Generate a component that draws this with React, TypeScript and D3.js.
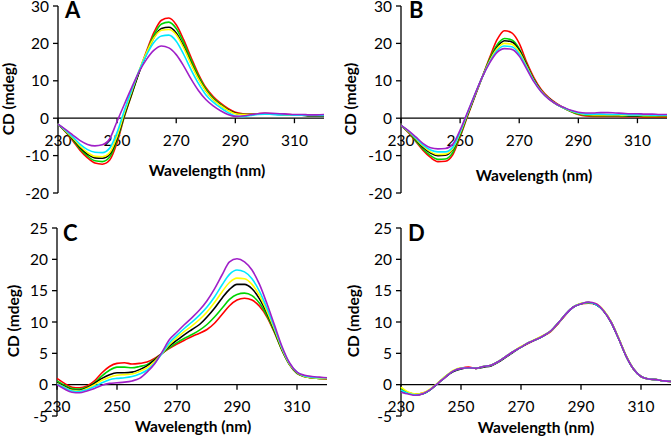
import * as d3 from 'd3';

// wavelength grid (nm) shared by all four panels
const wavelengths = [
  230, 232.5, 235, 237.5, 240, 242.5, 245, 247.5, 250, 252.5, 255, 257.5, 260, 262.5, 265, 267.5,
  270, 272.5, 275, 277.5, 280, 282.5, 285, 287.5, 290, 292.5, 295, 297.5, 300, 302.5, 305, 307.5,
  310, 312.5, 315, 317.5, 320,
];
const xTicks = [230, 250, 270, 290, 310];
const yTicksAB = [-20, -10, 0, 10, 20, 30];
const yTicksCD = [-5, 0, 5, 10, 15, 20, 25];

// Panel A
const aRed = [-1.6, -3.6, -6.0, -8.6, -10.6, -12.0, -12.3, -11.2, -6.5, 0.5, 6.5, 12.5, 18.0, 23.0, 26.2, 26.8, 25.0, 21.0, 16.3, 11.8, 8.2, 5.8, 4.0, 2.6, 1.6, 1.2, 1.1, 1.2, 1.3, 1.2, 1.1, 1.0, 0.9, 0.9, 0.8, 0.8, 0.8];
const aGreen = [-1.6, -3.5, -5.7, -8.2, -10.1, -11.4, -11.6, -10.4, -5.8, 0.8, 6.6, 12.4, 17.6, 22.3, 25.2, 25.7, 24.0, 20.2, 15.6, 11.3, 7.8, 5.4, 3.7, 2.3, 1.3, 1.0, 1.0, 1.1, 1.2, 1.1, 1.0, 0.9, 0.8, 0.8, 0.7, 0.7, 0.7];
const aBlack = [-1.6, -3.4, -5.5, -7.8, -9.6, -10.6, -10.7, -9.6, -5.3, 1.0, 6.8, 12.4, 17.3, 21.6, 24.0, 24.3, 22.8, 19.2, 14.8, 10.7, 7.4, 5.1, 3.5, 2.2, 1.3, 1.0, 1.0, 1.1, 1.2, 1.1, 1.0, 0.9, 0.8, 0.8, 0.7, 0.7, 0.7];
const aYellow = [-1.6, -3.3, -5.3, -7.5, -9.2, -10.2, -10.3, -9.2, -4.8, 1.5, 7.3, 12.9, 17.6, 21.5, 23.5, 23.7, 22.3, 18.8, 14.5, 10.5, 7.3, 5.0, 3.4, 2.1, 1.2, 1.0, 1.0, 1.1, 1.2, 1.1, 1.0, 0.9, 0.9, 0.8, 0.8, 0.8, 0.8];
const aCyan = [-1.6, -3.2, -5.0, -7.0, -8.4, -9.1, -9.2, -8.0, -3.8, 2.2, 7.7, 12.8, 17.0, 20.3, 22.0, 22.2, 20.6, 17.1, 13.0, 9.3, 6.3, 4.3, 2.8, 1.5, 0.6, 0.4, 0.7, 1.0, 1.1, 1.0, 0.9, 0.9, 0.8, 0.8, 0.8, 0.8, 0.8];
const aPurple = [-1.6, -3.0, -4.5, -6.0, -7.0, -7.4, -7.1, -5.5, -0.8, 3.8, 8.3, 12.5, 15.8, 18.2, 19.3, 18.8, 17.0, 14.0, 10.5, 7.4, 5.0, 3.3, 2.0, 1.0, 0.5, 0.6, 0.9, 1.2, 1.4, 1.3, 1.2, 1.1, 1.0, 1.0, 0.9, 0.9, 1.0];

// Panel B
const bRed = [-1.9, -3.8, -6.2, -8.6, -10.5, -11.6, -11.5, -9.8, -5.0, 0.5, 5.8, 11.0, 16.2, 21.0, 23.4, 22.8, 20.0, 15.0, 10.8, 7.6, 5.5, 4.0, 2.8, 1.8, 1.0, 0.6, 0.5, 0.5, 0.5, 0.5, 0.4, 0.4, 0.4, 0.3, 0.3, 0.3, 0.3];
const bGreen = [-1.9, -3.7, -6.0, -8.3, -10.0, -11.0, -10.9, -9.2, -4.6, 0.8, 6.0, 11.0, 15.8, 19.6, 21.3, 20.9, 18.6, 14.4, 10.3, 7.3, 5.3, 3.8, 2.7, 1.8, 1.1, 0.8, 0.7, 0.7, 0.7, 0.7, 0.6, 0.6, 0.6, 0.5, 0.5, 0.5, 0.5];
const bBlack = [-1.9, -3.6, -5.7, -7.8, -9.3, -10.0, -9.9, -8.4, -4.2, 1.0, 6.1, 11.0, 15.5, 19.0, 20.7, 20.4, 18.2, 14.2, 10.2, 7.3, 5.3, 3.8, 2.8, 1.9, 1.3, 1.0, 0.9, 0.9, 0.9, 0.8, 0.8, 0.7, 0.7, 0.7, 0.7, 0.6, 0.6];
const bYellow = [-1.9, -3.5, -5.5, -7.5, -9.0, -9.7, -9.6, -8.2, -4.0, 1.2, 6.2, 11.0, 15.3, 18.6, 20.0, 19.8, 17.7, 13.9, 10.0, 7.2, 5.2, 3.8, 2.8, 1.9, 1.3, 1.0, 0.9, 0.9, 0.9, 0.9, 0.8, 0.8, 0.8, 0.7, 0.7, 0.7, 0.7];
const bCyan = [-1.9, -3.4, -5.3, -7.2, -8.5, -9.0, -9.0, -7.8, -3.7, 1.4, 6.3, 11.0, 15.0, 18.1, 19.3, 19.1, 17.2, 13.6, 9.9, 7.1, 5.2, 3.8, 2.8, 2.0, 1.4, 1.1, 1.1, 1.1, 1.0, 1.0, 1.0, 0.9, 0.9, 0.9, 0.8, 0.8, 0.8];
const bPurple = [-1.9, -3.3, -5.0, -6.8, -7.9, -8.2, -8.1, -7.0, -3.2, 1.6, 6.4, 11.0, 14.8, 17.6, 18.6, 18.4, 16.6, 13.2, 9.7, 7.0, 5.1, 3.8, 2.9, 2.1, 1.6, 1.4, 1.4, 1.5, 1.5, 1.4, 1.3, 1.2, 1.2, 1.1, 1.1, 1.0, 1.0];

// Panel C
const cRed = [1.0, 0.2, -0.4, -0.5, -0.2, 0.6, 1.9, 2.9, 3.4, 3.5, 3.3, 3.4, 3.6, 4.2, 5.0, 5.8, 6.5, 7.1, 7.7, 8.2, 8.8, 9.8, 11.2, 12.6, 13.5, 13.8, 13.5, 12.5, 10.8, 8.3, 5.5, 3.2, 1.8, 1.3, 1.1, 1.0, 0.9];
const cGreen = [0.6, -0.1, -0.6, -0.7, -0.4, 0.3, 1.4, 2.3, 2.8, 2.8, 2.7, 2.9, 3.2, 4.0, 5.0, 5.9, 6.7, 7.4, 8.0, 8.7, 9.6, 10.8, 12.2, 13.6, 14.4, 14.6, 14.2, 13.0, 11.0, 8.4, 5.5, 3.2, 1.8, 1.3, 1.1, 1.0, 1.0];
const cBlack = [0.3, -0.3, -0.8, -0.9, -0.5, 0.2, 1.0, 1.6, 1.9, 1.9, 2.0, 2.4, 3.0, 3.9, 5.0, 6.2, 7.1, 8.0, 8.8, 9.6, 10.8, 12.2, 13.8, 15.2, 16.0, 16.0, 15.3, 13.7, 11.4, 8.6, 5.6, 3.3, 1.9, 1.3, 1.1, 1.0, 1.0];
const cYellow = [0.2, -0.4, -0.9, -1.0, -0.6, 0.0, 0.7, 1.2, 1.5, 1.6, 1.7, 2.1, 2.7, 3.7, 5.0, 6.4, 7.5, 8.5, 9.4, 10.4, 11.6, 13.1, 14.8, 16.3, 17.0, 16.9, 16.0, 14.2, 11.7, 8.8, 5.7, 3.3, 1.9, 1.3, 1.1, 1.0, 1.0];
const cCyan = [0.1, -0.5, -1.0, -1.1, -0.8, -0.3, 0.3, 0.8, 1.0, 1.1, 1.3, 1.7, 2.3, 3.4, 5.0, 6.7, 7.9, 9.0, 10.0, 11.1, 12.4, 14.0, 15.9, 17.6, 18.3, 18.0, 16.9, 14.9, 12.2, 9.1, 5.9, 3.4, 2.0, 1.4, 1.2, 1.1, 1.1];
const cPurple = [0.0, -0.7, -1.2, -1.3, -1.0, -0.6, -0.1, 0.2, 0.3, 0.4, 0.6, 1.0, 2.0, 3.3, 5.2, 7.2, 8.4, 9.6, 10.7, 11.9, 13.4, 15.3, 17.5, 19.6, 20.1, 19.6, 18.3, 16.0, 12.9, 9.5, 6.1, 3.5, 2.0, 1.5, 1.3, 1.2, 1.1];

// Panel D
const dRed = [-0.8, -1.3, -1.5, -1.3, -0.7, 0.3, 1.3, 2.2, 2.6, 2.8, 2.6, 2.9, 3.1, 3.7, 4.5, 5.3, 6.0, 6.6, 7.2, 7.8, 8.5, 9.8, 11.2, 12.4, 12.9, 13.0, 12.8, 11.8, 10.0, 7.4, 4.6, 2.5, 1.3, 0.9, 0.8, 0.6, 0.5];
const dGreen = [-0.6, -1.3, -1.6, -1.4, -0.7, 0.3, 1.4, 2.2, 2.6, 2.7, 2.6, 2.9, 3.1, 3.7, 4.5, 5.3, 6.0, 6.7, 7.2, 7.8, 8.6, 9.9, 11.3, 12.4, 12.9, 13.1, 12.8, 11.8, 10.0, 7.4, 4.6, 2.5, 1.3, 0.9, 0.8, 0.6, 0.5];
const dBlack = [-1.0, -1.4, -1.6, -1.4, -0.7, 0.3, 1.3, 2.1, 2.5, 2.7, 2.6, 2.8, 3.0, 3.6, 4.4, 5.2, 6.0, 6.7, 7.2, 7.8, 8.6, 9.9, 11.3, 12.4, 12.9, 13.1, 12.8, 11.8, 10.0, 7.4, 4.6, 2.5, 1.3, 0.9, 0.8, 0.6, 0.5];
const dYellow = [-0.4, -1.2, -1.5, -1.3, -0.6, 0.4, 1.4, 2.3, 2.7, 2.7, 2.6, 2.9, 3.1, 3.7, 4.5, 5.3, 6.1, 6.7, 7.3, 7.9, 8.6, 9.9, 11.3, 12.4, 13.0, 13.1, 12.9, 11.9, 10.1, 7.5, 4.7, 2.5, 1.3, 0.9, 0.8, 0.6, 0.5];
const dCyan = [-0.9, -1.4, -1.6, -1.4, -0.7, 0.3, 1.3, 2.2, 2.6, 2.7, 2.6, 2.9, 3.1, 3.7, 4.5, 5.3, 6.0, 6.7, 7.2, 7.8, 8.6, 9.9, 11.3, 12.4, 12.9, 13.1, 12.8, 11.8, 10.0, 7.4, 4.6, 2.5, 1.3, 0.9, 0.8, 0.6, 0.5];
const dPurple = [-1.2, -1.5, -1.7, -1.4, -0.7, 0.3, 1.3, 2.2, 2.6, 2.7, 2.6, 2.9, 3.1, 3.7, 4.5, 5.3, 6.0, 6.7, 7.2, 7.8, 8.6, 9.9, 11.3, 12.4, 12.9, 13.2, 12.9, 11.8, 10.0, 7.4, 4.6, 2.5, 1.3, 0.9, 0.8, 0.6, 0.5];

// red, green, black, yellow, cyan, purple
const colors = ['#ff0000', '#00d400', '#000000', '#ffff00', '#00e8ff', '#a020c8'];

const font = 'Lato, "Open Sans", sans-serif';

interface PanelProps {
  label: string;
  series: number[][];
  xRange: [number, number];
  yRange: [number, number];
  yDomain: [number, number];
  yTicks: number[];
  letterPos: [number, number];
  xTitlePos: [number, number];
  yTitlePos: [number, number];
}

function Panel({ label, series, xRange, yRange, yDomain, yTicks, letterPos, xTitlePos, yTitlePos }: PanelProps) {
  const x = d3.scaleLinear().domain([230, 320]).range(xRange);
  const y = d3.scaleLinear().domain(yDomain).range(yRange);
  const line = d3
    .line<number>()
    .x((_, i) => x(wavelengths[i]))
    .y((d) => y(d))
    .curve(d3.curveMonotoneX);

  const x0 = xRange[0];
  const zero = y(0);

  return (
    <g>
      {/* y axis */}
      <line x1={x0} x2={x0} y1={y(yDomain[0])} y2={y(yDomain[1])} stroke="#000" strokeWidth={1.3} />
      {yTicks.map((t) => (
        <g key={t}>
          <line x1={x0 - 5} x2={x0} y1={y(t)} y2={y(t)} stroke="#000" strokeWidth={1.3} />
          <text x={x0 - 9} y={y(t)} dy="0.36em" textAnchor="end" fontSize={15.5} fontFamily={font} fill="#000">
            {t}
          </text>
        </g>
      ))}

      {/* x axis at y = 0 */}
      <line x1={x0} x2={xRange[1]} y1={zero} y2={zero} stroke="#000" strokeWidth={1.3} />
      {xTicks.map((t) => (
        <g key={t}>
          <line x1={x(t)} x2={x(t)} y1={zero} y2={zero + 5} stroke="#000" strokeWidth={1.3} />
          <text x={x(t)} y={zero + 22} dy="0.36em" textAnchor="middle" fontSize={15.5} fontFamily={font} fill="#000">
            {t}
          </text>
        </g>
      ))}

      {series.map((s, i) => (
        <path key={i} d={line(s) ?? ''} fill="none" stroke={colors[i]} strokeWidth={1.6} strokeLinejoin="round" />
      ))}

      <text x={letterPos[0]} y={letterPos[1]} fontSize={22} fontWeight="bold" fontFamily={font} fill="#000">
        {label}
      </text>
      <text x={xTitlePos[0]} y={xTitlePos[1]} dy="0.35em" textAnchor="middle" fontSize={15.5} fontWeight="bold" fontFamily={font} fill="#000">
        Wavelength (nm)
      </text>
      <text
        transform={`translate(${yTitlePos[0]},${yTitlePos[1]}) rotate(-90)`}
        dy="0.35em"
        textAnchor="middle"
        fontSize={15.5}
        fontWeight="bold"
        fontFamily={font}
        fill="#000"
      >
        CD (mdeg)
      </text>
    </g>
  );
}

export default function App() {
  return (
    <svg width={672} height={437} style={{ position: 'absolute', left: 0, top: 0, background: '#fff' }}>
      <Panel
        label="A"
        series={[aRed, aGreen, aBlack, aYellow, aCyan, aPurple]}
        xRange={[58, 324]}
        yRange={[193, 6]}
        yDomain={[-20, 30]}
        yTicks={yTicksAB}
        letterPos={[65, 18]}
        xTitlePos={[207, 171]}
        yTitlePos={[9, 99]}
      />
      <Panel
        label="B"
        series={[bRed, bGreen, bBlack, bYellow, bCyan, bPurple]}
        xRange={[401, 667]}
        yRange={[193, 6]}
        yDomain={[-20, 30]}
        yTicks={yTicksAB}
        letterPos={[409, 18]}
        xTitlePos={[534, 176]}
        yTitlePos={[351, 99]}
      />
      <Panel
        label="C"
        series={[cRed, cGreen, cBlack, cYellow, cCyan, cPurple]}
        xRange={[57, 327]}
        yRange={[416, 228]}
        yDomain={[-5, 25]}
        yTicks={yTicksCD}
        letterPos={[63, 241]}
        xTitlePos={[193, 427]}
        yTitlePos={[14, 321]}
      />
      <Panel
        label="D"
        series={[dRed, dGreen, dBlack, dYellow, dCyan, dPurple]}
        xRange={[401, 671]}
        yRange={[416, 228]}
        yDomain={[-5, 25]}
        yTicks={yTicksCD}
        letterPos={[408, 241]}
        xTitlePos={[536, 428]}
        yTitlePos={[354, 321]}
      />
    </svg>
  );
}
